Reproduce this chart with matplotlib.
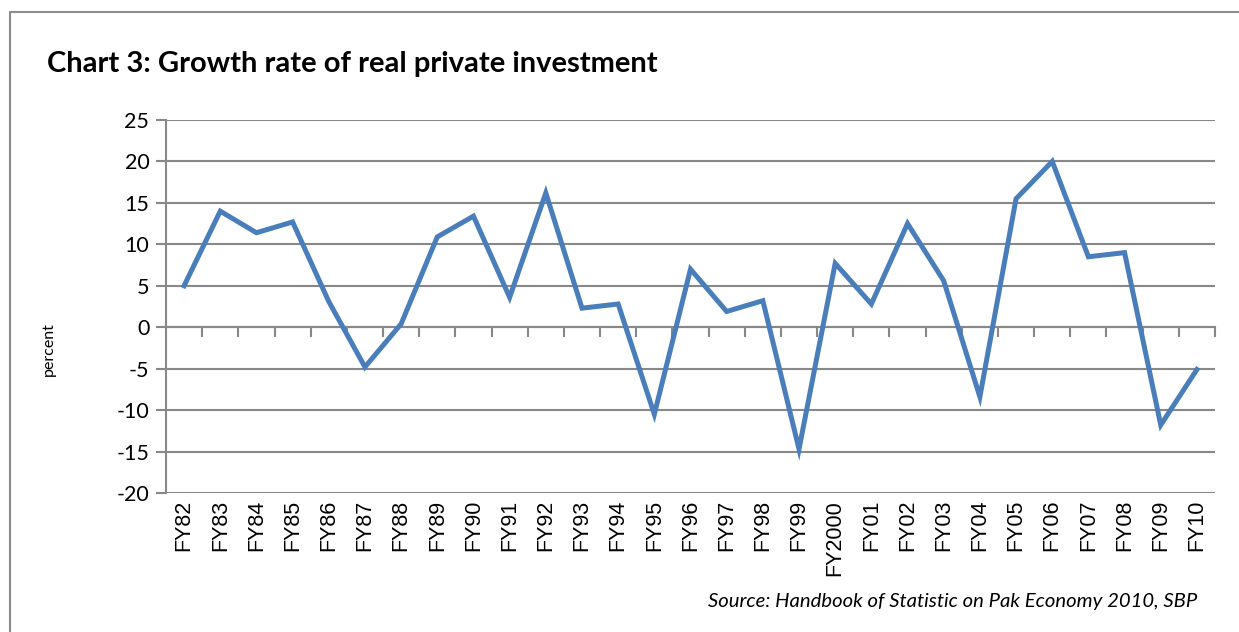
import matplotlib
matplotlib.use("Agg")
import matplotlib.pyplot as plt
from matplotlib.lines import Line2D
import numpy as np

categories = ["FY82", "FY83", "FY84", "FY85", "FY86", "FY87", "FY88", "FY89", "FY90", "FY91",
              "FY92", "FY93", "FY94", "FY95", "FY96", "FY97", "FY98", "FY99", "FY2000", "FY01",
              "FY02", "FY03", "FY04", "FY05", "FY06", "FY07", "FY08", "FY09", "FY10"]
growth = [5.0, 14.0, 11.4, 12.7, 3.1, -4.8, 0.4, 10.9, 13.4, 3.6,
          16.2, 2.3, 2.8, -10.5, 7.0, 1.9, 3.2, -14.7, 7.7, 2.8,
          12.5, 5.6, -8.4, 15.5, 20.0, 8.5, 9.0, -11.8, -5.1]
yticks = [-20, -15, -10, -5, 0, 5, 10, 15, 20, 25]

plt.rcParams['font.family'] = ['Lato', 'DejaVu Sans']
plt.rcParams['axes.unicode_minus'] = False
W, H = 1239, 632
fig = plt.figure(figsize=(W/100, H/100), dpi=100)
ax = fig.add_axes([166/W, 1-493/H, (1215-166)/W, (493-120)/H])

grid_c = '#888888'
x = np.arange(len(categories))
ax.plot(x, growth, color='#4a7ebb', lw=3.6, solid_joinstyle='miter', zorder=5)

ax.set_xlim(-0.5, len(categories)-0.5)
ax.set_ylim(yticks[0], yticks[-1])
ax.set_yticks(yticks)
ax.yaxis.grid(True, color=grid_c, lw=1.5)
ax.set_axisbelow(True)
for s in ['top', 'right', 'bottom']:
    ax.spines[s].set_visible(False)
ax.spines['left'].set_color(grid_c)
ax.spines['left'].set_linewidth(1.5)
ax.tick_params(axis='y', length=7, width=1.5, color=grid_c, labelsize=15.5, pad=5)
ax.set_xticks(x)
ax.set_xticklabels(categories, rotation=90, fontsize=15.5,
                   fontfamily=['Liberation Sans', 'DejaVu Sans'])
ax.tick_params(axis='x', length=0, pad=5)

# zero axis with category-boundary ticks
zero_loc = (0 - yticks[0]) / (yticks[-1] - yticks[0])
sec = ax.secondary_xaxis(zero_loc)
sec.set_xticks(np.arange(len(categories)) + 0.5)
sec.set_xticklabels([])
sec.tick_params(axis='x', length=7, width=1.5, color=grid_c, direction='out')
sec.spines['bottom'].set_color(grid_c)
sec.spines['bottom'].set_linewidth(1.5)
sec.set_zorder(1)

# frame
fig.add_artist(Line2D([10/W, 10/W, 1.0], [0.0, 1-12/H, 1-12/H],
                      transform=fig.transFigure, color='#8c8c8c', lw=1.5))

fig.text(47/W, 1-64/H, "Chart 3: Growth rate of real private investment",
         fontsize=21, fontweight='bold', ha='left', va='center')
fig.text(49/W, 1-349/H, "percent", rotation=90, fontsize=11.5, ha='center', va='center')
fig.text(1197/W, 1-602/H, "Source: Handbook of Statistic on Pak Economy 2010, SBP",
         fontsize=14.6, style='italic', ha='right', va='center')

fig.savefig("out.png", dpi=100)
